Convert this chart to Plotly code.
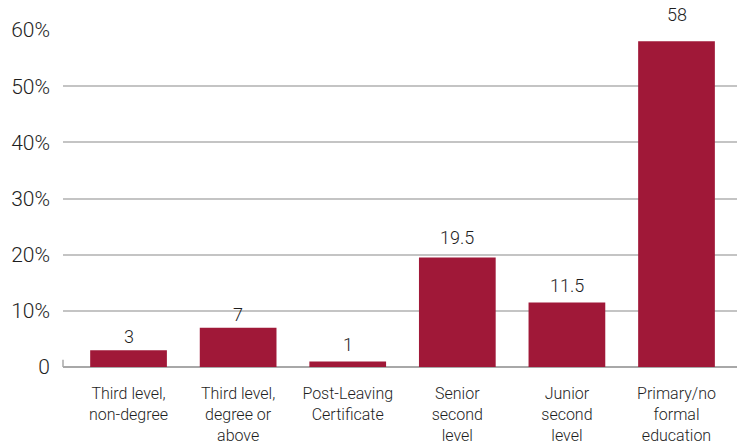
import plotly.graph_objects as go

categories = [
    "Third level,<br>non-degree",
    "Third level,<br>degree or<br>above",
    "Post-Leaving<br>Certificate",
    "Senior<br>second<br>level",
    "Junior<br>second<br>level",
    "Primary/no<br>formal<br>education",
]
values = [3, 7, 1, 19.5, 11.5, 58]
value_labels = ["3", "7", "1", "19.5", "11.5", "58"]
# pixel gap left between each bar top and its value label
label_gaps = [5, 5, 8, 11, 8, 18]
y_ticks = [0, 10, 20, 30, 40, 50, 60]
y_tick_labels = ["0", "10%", "20%", "30%", "40%", "50%", "60%"]

BAR = "#A01838"
TEXT = "#1e1e1e"
FONT = "Roboto"
WEIGHT = 300

x_pos = list(range(len(categories)))

fig = go.Figure(
    go.Bar(
        x=x_pos,
        y=values,
        width=0.70,
        marker=dict(color=BAR, line=dict(width=0)),
        cliponaxis=False,
        hoverinfo="skip",
    )
)

for xv, yv, lab, gap in zip(x_pos, values, value_labels, label_gaps):
    fig.add_annotation(
        x=xv, y=yv, text=lab, showarrow=False,
        xanchor="center", yanchor="bottom", yshift=gap - 4,
        font=dict(family=FONT, size=18, color=TEXT, weight=WEIGHT),
    )

fig.update_layout(
    width=737,
    height=444,
    margin=dict(l=63, r=0, t=30, b=77, autoexpand=False),
    paper_bgcolor="white",
    plot_bgcolor="white",
    showlegend=False,
    font=dict(family=FONT, color=TEXT, weight=WEIGHT),
)

fig.update_xaxes(
    range=[-0.598, 5.552],
    tickvals=x_pos,
    ticktext=categories,
    tickfont=dict(family=FONT, size=16, color=TEXT, weight=WEIGHT),
    showgrid=False,
    zeroline=False,
    showline=False,
    ticks="",
    ticklabelstandoff=15,
    automargin=False,
)

fig.update_yaxes(
    range=[0, 60],
    tickvals=y_ticks,
    ticktext=y_tick_labels,
    tickfont=dict(family=FONT, size=21, color=TEXT, weight=WEIGHT),
    showgrid=True,
    gridcolor="#c4c4c4",
    gridwidth=1.5,
    zeroline=True,
    zerolinecolor="#a8a8a8",
    zerolinewidth=2,
    showline=False,
    ticks="",
    ticklabelstandoff=12,
    automargin=False,
)

# short stub marking the start of the baseline
fig.add_shape(
    type="line", xref="paper", yref="y",
    x0=0, x1=0, y0=0, y1=1.3,
    line=dict(color="#a8a8a8", width=1.5),
)

fig.write_html("out.html")
